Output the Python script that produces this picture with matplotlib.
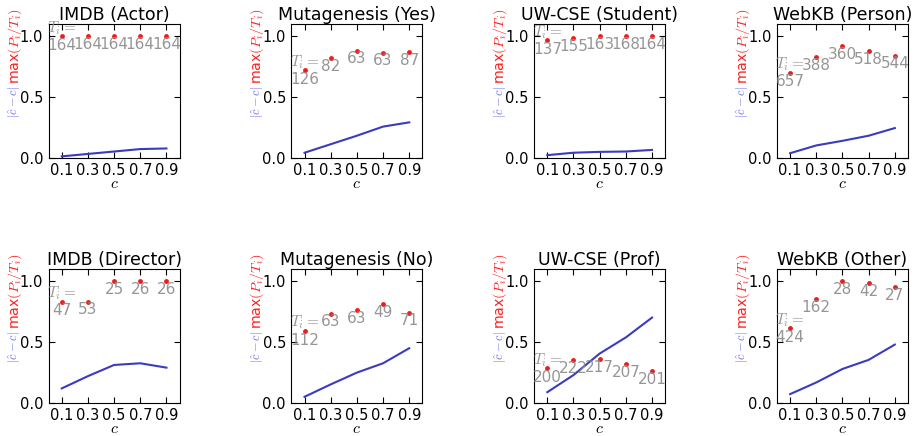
import matplotlib
matplotlib.use('Agg')
import matplotlib.pyplot as plt

plt.rcParams['mathtext.fontset'] = 'cm'
plt.rcParams['font.family'] = 'DejaVu Sans'
plt.rcParams['xtick.direction'] = 'in'
plt.rcParams['ytick.direction'] = 'in'
plt.rcParams['xtick.top'] = True
plt.rcParams['ytick.right'] = True
plt.rcParams['xtick.major.size'] = 4
plt.rcParams['ytick.major.size'] = 4

c_vals = [0.1, 0.3, 0.5, 0.7, 0.9]

titles = ['IMDB (Actor)', 'Mutagenesis (Yes)', 'UW-CSE (Student)', 'WebKB (Person)',
          'IMDB (Director)', 'Mutagenesis (No)', 'UW-CSE (Prof)', 'WebKB (Other)']

# |c_hat - c|
err = [
    [0.01, 0.03, 0.05, 0.07, 0.075],
    [0.04, 0.11, 0.18, 0.255, 0.29],
    [0.02, 0.04, 0.047, 0.05, 0.063],
    [0.036, 0.10, 0.138, 0.18, 0.243],
    [0.119, 0.22, 0.312, 0.326, 0.29],
    [0.05, 0.152, 0.249, 0.326, 0.45],
    [0.088, 0.229, 0.406, 0.539, 0.702],
    [0.072, 0.168, 0.279, 0.354, 0.48],
]

# max(P_i/T_i)
pmax = [
    [1.0, 1.0, 1.0, 1.0, 1.0],
    [0.72, 0.82, 0.88, 0.865, 0.87],
    [0.967, 0.985, 1.0, 1.0, 1.0],
    [0.70, 0.826, 0.917, 0.876, 0.84],
    [0.834, 0.834, 1.0, 1.0, 1.0],
    [0.594, 0.735, 0.765, 0.812, 0.743],
    [0.285, 0.351, 0.359, 0.32, 0.262],
    [0.616, 0.856, 1.0, 0.986, 0.95],
]

# T_i
t_counts = [
    [164, 164, 164, 164, 164],
    [126, 82, 63, 63, 87],
    [137, 155, 163, 168, 164],
    [657, 388, 360, 518, 544],
    [47, 53, 25, 26, 26],
    [112, 63, 63, 49, 71],
    [200, 222, 217, 207, 201],
    [424, 162, 28, 42, 27],
]

fig, axes = plt.subplots(2, 4, figsize=(9.18, 4.36), dpi=100)
fig.subplots_adjust(left=0.053, right=0.989, bottom=0.076, top=0.945,
                    wspace=0.855, hspace=0.836)

for k, ax in enumerate(axes.flat):
    ax.plot(c_vals, err[k], color='#3b3bc0', lw=1.5)
    ax.plot(c_vals, pmax[k], 'o', color='#ee1c1c', ms=3.5, mec='none')
    for j in range(len(c_vals)):
        if j == 0:
            s = '$T_i=$\n%d' % t_counts[k][j]
        else:
            s = '\n%d' % t_counts[k][j]
        ax.text(c_vals[j], pmax[k][j], s, color='#8a8a8a', alpha=0.9,
                ha='center', va='center', fontsize=11, linespacing=1.1)
    ax.set_xlim(0, 1)
    ax.set_ylim(0, 1.1)
    ax.set_xticks(c_vals)
    ax.set_xticklabels(['0.1', '0.3', '0.5', '0.7', '0.9'])
    ax.set_yticks([0.0, 0.5, 1.0])
    ax.tick_params(labelsize=10.5, pad=4)
    ax.set_title(titles[k], fontsize=12.5, pad=3)
    ax.set_xlabel('$c$', fontsize=11.5, labelpad=-1.5)
    ax.text(-0.26, 0.55, 'max$(P_i/T_i)$', color='#ff2020', rotation=90,
            ha='center', va='bottom', fontsize=10.2, transform=ax.transAxes)
    ax.text(-0.26, 0.54, r'$|\hat{c}-c|$', color='#7070f0', rotation=90,
            ha='center', va='top', fontsize=9, transform=ax.transAxes)

fig.savefig('out.png', dpi=100)
